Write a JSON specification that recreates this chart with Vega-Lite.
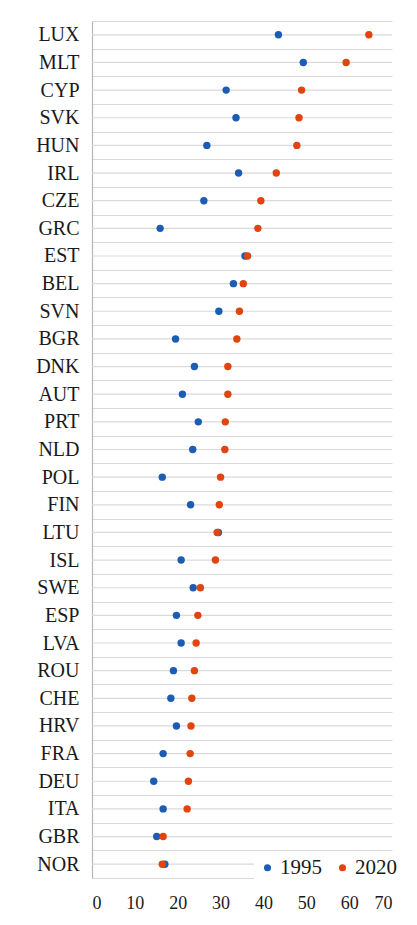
{
  "$schema": "https://vega.github.io/schema/vega-lite/v6.json",
  "autosize": "none",
  "padding": {"left": 92, "top": 21, "right": 25, "bottom": 47},
  "width": 300,
  "height": 857,
  "background": "white",
  "config": {
    "view": {"stroke": null},
    "font": "'Liberation Serif', 'Times New Roman', Times, serif"
  },
  "data": {
    "values": [
      {"country": "LUX", "1995": 43.5, "2020": 64.6},
      {"country": "MLT", "1995": 49.3, "2020": 59.3},
      {"country": "CYP", "1995": 31.3, "2020": 48.9},
      {"country": "SVK", "1995": 33.6, "2020": 48.3},
      {"country": "HUN", "1995": 26.8, "2020": 47.8},
      {"country": "IRL", "1995": 34.2, "2020": 43.0},
      {"country": "CZE", "1995": 26.1, "2020": 39.4},
      {"country": "GRC", "1995": 15.9, "2020": 38.7},
      {"country": "EST", "1995": 35.7, "2020": 36.3},
      {"country": "BEL", "1995": 33.0, "2020": 35.3},
      {"country": "SVN", "1995": 29.6, "2020": 34.4},
      {"country": "BGR", "1995": 19.5, "2020": 33.8},
      {"country": "DNK", "1995": 23.9, "2020": 31.7},
      {"country": "AUT", "1995": 21.1, "2020": 31.7},
      {"country": "PRT", "1995": 24.8, "2020": 31.1},
      {"country": "NLD", "1995": 23.5, "2020": 31.0},
      {"country": "POL", "1995": 16.4, "2020": 30.0},
      {"country": "FIN", "1995": 23.0, "2020": 29.7},
      {"country": "LTU", "1995": 29.5, "2020": 29.2},
      {"country": "ISL", "1995": 20.8, "2020": 28.8},
      {"country": "SWE", "1995": 23.6, "2020": 25.3},
      {"country": "ESP", "1995": 19.7, "2020": 24.7},
      {"country": "LVA", "1995": 20.8, "2020": 24.3},
      {"country": "ROU", "1995": 19.0, "2020": 23.9},
      {"country": "CHE", "1995": 18.4, "2020": 23.3},
      {"country": "HRV", "1995": 19.7, "2020": 23.1},
      {"country": "FRA", "1995": 16.6, "2020": 22.9},
      {"country": "DEU", "1995": 14.4, "2020": 22.5},
      {"country": "ITA", "1995": 16.6, "2020": 22.2},
      {"country": "GBR", "1995": 15.1, "2020": 16.6},
      {"country": "NOR", "1995": 17.0, "2020": 16.4}
    ]
  },
  "layer": [
    {
      "mark": {"type": "rule", "color": "#dadada", "strokeWidth": 1.2},
      "encoding": {
        "y": {
          "field": "country",
          "type": "nominal",
          "sort": null,
          "scale": {"type": "band", "paddingInner": 0, "paddingOuter": 0},
          "axis": {
            "title": null,
            "ticks": false,
            "labelPadding": 13,
            "labelFontSize": 20,
            "labelColor": "#1a1a1a",
            "labelFont": "'Liberation Serif', 'Times New Roman', Times, serif",
            "domainColor": "#b5b5b5",
            "domainWidth": 1.2,
            "grid": true,
            "tickBand": "extent",
            "gridColor": "#dadada",
            "gridWidth": 1.2
          }
        }
      }
    },
    {
      "transform": [{"fold": ["1995", "2020"], "as": ["year", "value"]}],
      "mark": {"type": "point", "filled": true, "size": 55, "opacity": 1},
      "encoding": {
        "y": {"field": "country", "type": "nominal", "sort": null},
        "x": {
          "field": "value",
          "type": "quantitative",
          "scale": {"domain": [0, 70], "nice": false, "zero": true},
          "axis": {
            "title": null,
            "values": [0, 10, 20, 30, 40, 50, 60, 70],
            "grid": false,
            "ticks": false,
            "domain": true,
            "domainColor": "#dadada",
            "domainWidth": 1.2,
            "labelPadding": 16,
            "labelFontSize": 18,
            "labelColor": "#1a1a1a",
            "labelFont": "'Liberation Serif', 'Times New Roman', Times, serif"
          }
        },
        "color": {
          "field": "year",
          "type": "nominal",
          "scale": {"domain": ["1995", "2020"], "range": ["#1d5cb4", "#e0450f"]},
          "legend": {
            "title": null,
            "orient": "none",
            "legendX": 162,
            "legendY": 833,
            "direction": "horizontal",
            "fillColor": "white",
            "padding": 3,
            "symbolType": "circle",
            "symbolSize": 50,
            "labelFontSize": 21,
            "labelFont": "'Liberation Serif', 'Times New Roman', Times, serif",
            "labelColor": "#1a1a1a",
            "labelOffset": 2,
            "columnPadding": 10
          }
        }
      }
    }
  ]
}
